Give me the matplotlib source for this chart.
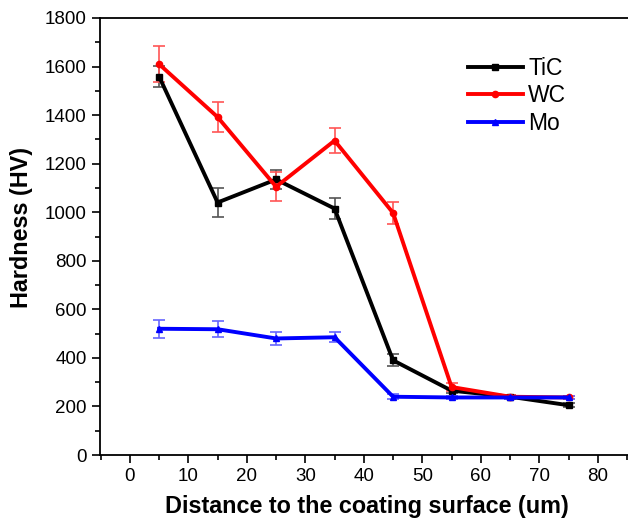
import matplotlib
matplotlib.use("Agg")
import matplotlib.pyplot as plt
from matplotlib.lines import Line2D
from matplotlib.ticker import MultipleLocator

plt.rcParams['font.family'] = ['Liberation Sans', 'DejaVu Sans']

distance = [5, 15, 25, 35, 45, 55, 65, 75]

tic = [1559, 1040, 1135, 1015, 390, 265, 240, 205]
tic_err = [45, 58, 40, 42, 25, 10, 8, 8]

wc = [1610, 1392, 1105, 1295, 997, 280, 240, 237]
wc_err = [75, 62, 60, 50, 45, 15, 8, 8]

mo = [520, 518, 480, 485, 240, 237, 237, 237]
mo_err = [38, 32, 25, 20, 10, 8, 8, 8]

series = [
    ("TiC", tic, tic_err, "black", "#555555", "s"),
    ("WC", wc, wc_err, "#ff0000", "#ff5555", "o"),
    ("Mo", mo, mo_err, "#0000ff", "#6666ff", "^"),
]

W, H = 628, 523
x_min, x_max = -5.1, 86.0
px_per_unit = 5.85
ax_left, ax_bottom_px, ax_top_px = 100, 455, 18
ax_width = (x_max - x_min) * px_per_unit
ax_height = ax_bottom_px - ax_top_px

fig = plt.figure(figsize=(W / 100, H / 100), dpi=100)
ax = fig.add_axes([ax_left / W, 1 - ax_bottom_px / H, ax_width / W, ax_height / H])

handles = []
for name, vals, errs, color, ecolor, marker in series:
    ax.errorbar(distance, vals, yerr=errs, color=color, ecolor=ecolor,
                elinewidth=1.2, capsize=4, capthick=1.2,
                linewidth=2.8, marker=marker, markersize=4.5)
    handles.append(Line2D([], [], color=color, linewidth=2.8, marker=marker,
                          markersize=4.5, label=name))

ax.set_xlim(x_min, x_max)
ax.set_ylim(0, 1800)
ax.xaxis.set_major_locator(MultipleLocator(10))
ax.xaxis.set_minor_locator(MultipleLocator(5))
ax.yaxis.set_major_locator(MultipleLocator(200))
ax.yaxis.set_minor_locator(MultipleLocator(100))
ax.tick_params(which='both', direction='out', width=1.2, labelsize=13.5,
               top=False, right=False)
ax.tick_params(which='major', length=6)
ax.tick_params(which='minor', length=3.5)
ax.spines['right'].set_visible(False)
for sp in ax.spines.values():
    sp.set_linewidth(1.3)

ax.set_xlabel("Distance to the coating surface (um)", fontsize=16.8,
              fontweight='bold', labelpad=7)
ax.set_ylabel("Hardness (HV)", fontsize=16.8, fontweight='bold')
ax.yaxis.set_label_coords((33 - ax_left) / ax_width, (ax_bottom_px - 228) / ax_height)

ax.legend(handles=handles, loc='upper left',
          bbox_to_anchor=(447 / W, 1 - 36 / H), bbox_transform=fig.transFigure,
          frameon=False, fontsize=16.5, handlelength=2.4, labelspacing=0.2,
          handletextpad=0.25, borderpad=0.4)

fig.savefig("out.png", dpi=100)
